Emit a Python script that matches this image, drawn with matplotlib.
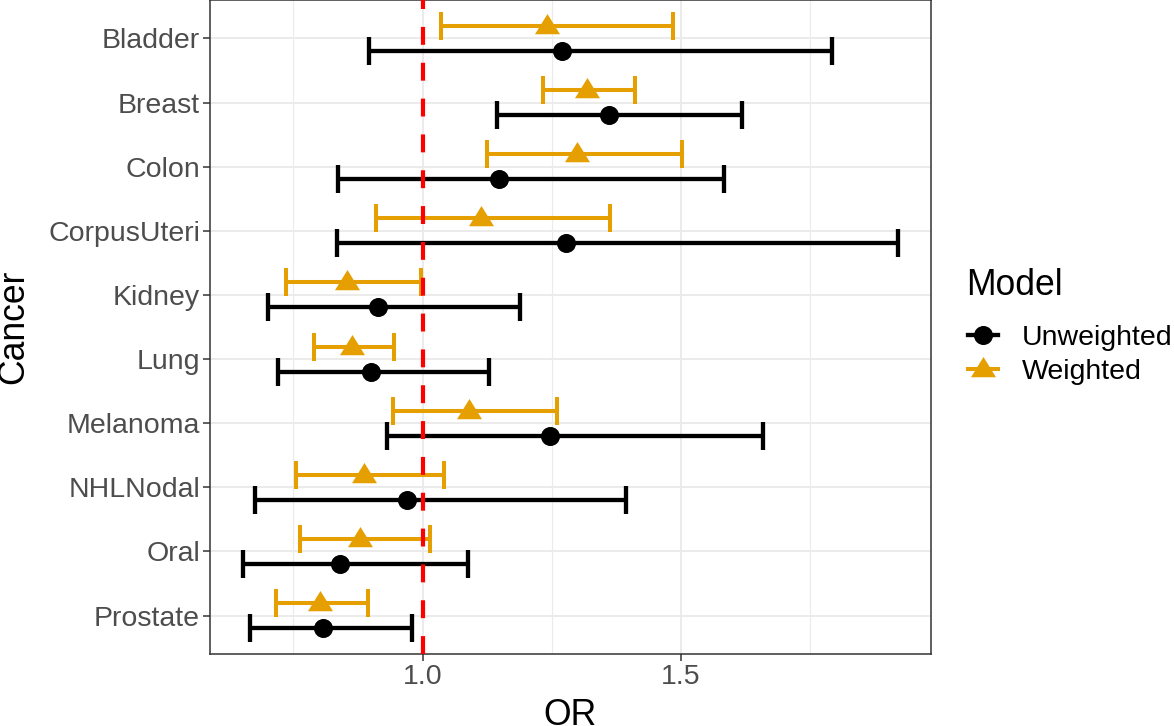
import numpy as np
import matplotlib
matplotlib.use("Agg")
import matplotlib.pyplot as plt
from matplotlib.lines import Line2D

plt.rcParams['font.family'] = ['Liberation Sans', 'DejaVu Sans']

# odds ratios, top to bottom
cancers = ["Bladder", "Breast", "Colon", "CorpusUteri", "Kidney",
           "Lung", "Melanoma", "NHLNodal", "Oral", "Prostate"]
unw_or = [1.270, 1.361, 1.148, 1.278, 0.914, 0.900, 1.247, 0.970, 0.840, 0.807]
unw_lo = [0.896, 1.144, 0.836, 0.834, 0.701, 0.720, 0.931, 0.676, 0.652, 0.666]
unw_hi = [1.791, 1.618, 1.582, 1.920, 1.189, 1.129, 1.659, 1.394, 1.088, 0.980]
w_or = [1.241, 1.317, 1.299, 1.113, 0.854, 0.864, 1.090, 0.887, 0.879, 0.802]
w_lo = [1.036, 1.233, 1.125, 0.910, 0.736, 0.790, 0.943, 0.755, 0.763, 0.716]
w_hi = [1.485, 1.411, 1.502, 1.363, 0.997, 0.945, 1.260, 1.042, 1.015, 0.895]
models = ["Unweighted", "Weighted"]

BLACK = "black"
ORANGE = "#E69F00"
W, H = 1174, 726

fig = plt.figure(figsize=(W / 100, H / 100), dpi=100)
# panel box in pixels: left 210, right 931, top 0, bottom 654
ax = fig.add_axes([210 / W, 1 - 654 / H, (931 - 210) / W, 654 / H])

n = len(cancers)
ypos = np.arange(n)[::-1].astype(float)
dodge = 0.195

series = [
    (unw_or, unw_lo, unw_hi, BLACK, 'o', 13.7, -dodge, 3.1),
    (w_or, w_lo, w_hi, ORANGE, 'tri', 18.0, dodge, 2.9),
]
tri = [(-1, -0.62), (1, -0.62), (0, 1.0)]

for est, lo, hi, col, mk, ms, off, lw in series:
    est = np.array(est); lo = np.array(lo); hi = np.array(hi)
    y = ypos + off
    ax.errorbar(est, y, xerr=[est - lo, hi - est], fmt='none', ecolor=col,
                elinewidth=lw, capsize=10.4, capthick=lw, zorder=3)
    ax.plot(est, y, linestyle='none', marker=tri if mk == 'tri' else mk,
            markersize=ms, color=col, markeredgewidth=0, zorder=4)

ax.axvline(1.0, color='red', lw=3.0, dashes=(4.3, 4.3), zorder=5)

allv = unw_lo + unw_hi + w_lo + w_hi
lo_all, hi_all = min(allv), max(allv)
pad = 0.05 * (hi_all - lo_all)
ax.set_xlim(lo_all - pad, hi_all + pad)
ax.set_ylim(-0.6, n - 1 + 0.6)

ax.set_xticks([1.0, 1.5])
ax.set_xticklabels(["1.0", "1.5"])
ax.set_xticks([0.75, 1.25, 1.75], minor=True)
ax.set_yticks(ypos)
ax.set_yticklabels(cancers)

ax.grid(True, which='major', color='#EBEBEB', lw=1.4, zorder=0)
ax.grid(True, which='minor', axis='x', color='#EBEBEB', lw=0.8, zorder=0)
ax.set_axisbelow(True)
ax.tick_params(which='major', length=4.7, width=1.1, color='#333333',
               labelsize=20.5, labelcolor='#4D4D4D', pad=2.5)
ax.tick_params(which='minor', length=0)
for s in ax.spines.values():
    s.set_color('#333333')
    s.set_linewidth(1.1)

fig.text(14 / W, 1 - 327 / H, "Cancer", rotation=90, ha='center', va='center',
         fontsize=25.6)
fig.text(570 / W, 1 - 725 / H, "OR", ha='center', va='baseline', fontsize=25.6)

# legend: title as its own text, keys below it
fig.text(966 / W, 1 - 295 / H, "Model", ha='left', va='baseline', fontsize=25.6)
handles = [
    Line2D([0], [0], color=BLACK, lw=3.1, marker='o', markersize=13.7,
           markeredgewidth=0),
    Line2D([0], [0], color=ORANGE, lw=2.9, marker=tri, markersize=18.0,
           markeredgewidth=0),
]
fig.legend(handles, models, loc='center left',
           bbox_to_anchor=(968 / W, 1 - 355 / H), frameon=False,
           fontsize=20.5, handlelength=1.05, handletextpad=0.85,
           labelspacing=0.29, borderpad=0, borderaxespad=0, numpoints=1)

fig.savefig("out.png", dpi=100)
